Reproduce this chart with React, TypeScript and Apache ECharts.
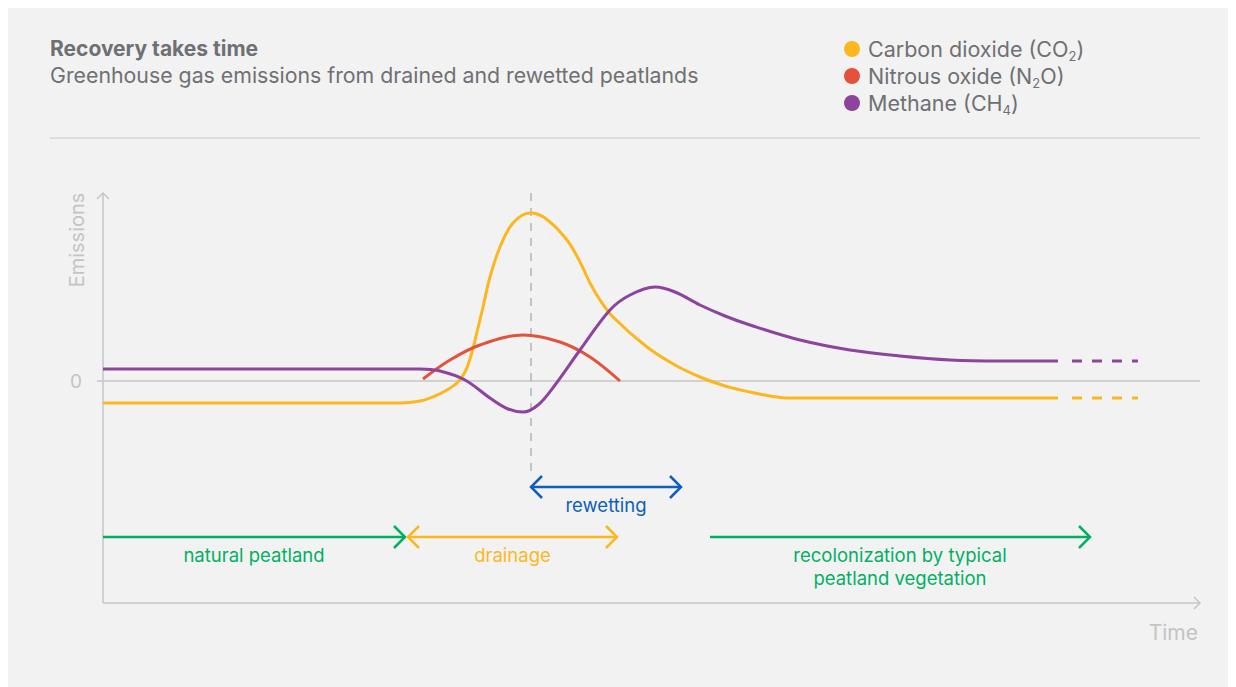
import React, { useEffect, useRef } from "react";
import * as echarts from "echarts";

// ---- Data (arbitrary units: time vs. emissions, 0 = zero emissions) ----
const co2Curve: [number, number][] = [
  [0, -2.2], [29.7, -2.2], [31.7, -2.0], [33.2, -1.5], [34.4, -0.9], [35.5, -0.1],
  [36.3, 1.1], [36.9, 2.9], [37.4, 4.9], [38.0, 7.4], [38.7, 10.4], [39.7, 13.4],
  [41.0, 15.8], [42.7, 16.8], [44.2, 16.3], [46.4, 14.1], [47.7, 11.9], [48.7, 9.8],
  [49.7, 8.1], [51.0, 6.4], [54.4, 3.4], [57.2, 1.6], [59.7, 0.4], [62.2, -0.5],
  [64.7, -1.1], [66.7, -1.5], [68.7, -1.7], [95.5, -1.7],
];
const co2Projection: [number, number][] = [[96.9, -1.7], [103.5, -1.7]];

const n2oCurve: [number, number][] = [
  [32.0, 0.2], [34.7, 2.1], [37.7, 3.6], [42.0, 4.6], [45.7, 3.9], [48.7, 2.4], [51.7, 0.0],
];

const ch4Curve: [number, number][] = [
  [0, 1.2], [31.7, 1.2], [33.7, 1.0], [36.2, 0.1], [38.7, -1.7], [40.5, -2.8],
  [42.0, -3.1], [43.5, -2.4], [45.2, -0.4], [47.7, 3.1], [50.7, 7.1], [52.7, 8.6],
  [55.2, 9.4], [57.2, 8.9], [59.7, 7.6], [62.2, 6.5], [64.7, 5.6], [69.7, 4.1], [74.7, 3.1],
  [79.7, 2.5], [84.7, 2.1], [89.7, 2.0], [95.5, 2.0],
];
const ch4Projection: [number, number][] = [[96.9, 2.0], [103.5, 2.0]];

const rewettingMarker: [number, number][] = [[42.8, 18.8], [42.8, -9.4]];

const periodLabels = [
  "natural peatland",
  "drainage",
  "rewetting",
  "recolonization by typical\npeatland vegetation",
];
const periodStart = [0, 30.5, 42.8, 60.7];
const periodEnd = [30.2, 51.4, 57.8, 98.7];
const periodLevel = [-15.6, -15.6, -10.6, -15.6];

const seriesNames = ["Carbon dioxide (CO2)", "Nitrous oxide (N2O)", "Methane (CH4)"];
const legendRich: Record<string, string> = {
  "Carbon dioxide (CO2)": "Carbon dioxide (CO{s|2})",
  "Nitrous oxide (N2O)": "Nitrous oxide (N{s|2}O)",
  "Methane (CH4)": "Methane (CH{s|4})",
};

const X_MIN = 0;
const X_MAX = 109.7;
const Y_MIN = -22.2;
const Y_MAX = 18.8;

// ---- Styles ----
const FONT = "Inter, Roboto, sans-serif";
const C_CO2 = "#fdb71e";
const C_N2O = "#e3523b";
const C_CH4 = "#8c449c";
const C_GREEN = "#00b062";
const C_BLUE = "#0d5fbd";
const C_TEXT = "#6f7073";
const C_AXIS = "#c6c6c6";
const C_AXIS_TEXT = "#c4c4c4";
const periodColors = [C_GREEN, C_CO2, C_BLUE, C_GREEN];
const periodHeads = ["end", "both", "both", "end"];
const SMOOTH = 0.35;

export default function App() {
  const ref = useRef<HTMLDivElement>(null);

  useEffect(() => {
    document.body.style.overflow = "hidden";
    const chart = echarts.init(ref.current!, null, { renderer: "svg" });

    const periodData = periodLabels.map((_, i) => [periodStart[i], periodEnd[i], periodLevel[i]]);

    const option: any = {
      animation: false,
      backgroundColor: "#f2f2f2",
      title: {
        text: "Recovery takes time",
        subtext: "Greenhouse gas emissions from drained and rewetted peatlands",
        left: 42,
        top: 28,
        padding: 0,
        itemGap: 1,
        textStyle: { fontFamily: FONT, fontSize: 21, fontWeight: "bold", color: C_TEXT, lineHeight: 25 },
        subtextStyle: { fontFamily: FONT, fontSize: 21.3, color: C_TEXT, lineHeight: 25 },
      },
      legend: {
        data: seriesNames.map((n) => ({ name: n, icon: "circle" })),
        orient: "vertical",
        left: 836,
        top: 28,
        padding: 0,
        itemGap: 1,
        itemWidth: 16,
        itemHeight: 16,
        selectedMode: false,
        formatter: (n: string) => legendRich[n] || n,
        textStyle: {
          fontFamily: FONT,
          fontSize: 21.5,
          color: C_TEXT,
          lineHeight: 26,
          padding: [0, 0, 0, 3],
          rich: {
            s: { fontFamily: FONT, fontSize: 13, color: C_TEXT, lineHeight: 10, verticalAlign: "bottom" },
          },
        },
      },
      graphic: [
        {
          type: "line",
          shape: { x1: 42, y1: 130, x2: 1192, y2: 130 },
          style: { stroke: "#c8c8c8", lineWidth: 1.2 },
        },
      ],
      grid: { left: 95, right: 36, top: 185, bottom: 84 },
      xAxis: {
        type: "value",
        min: X_MIN,
        max: X_MAX,
        axisLine: { show: false },
        axisTick: { show: false },
        axisLabel: { show: false },
        splitLine: { show: false },
      },
      yAxis: {
        type: "value",
        min: Y_MIN,
        max: Y_MAX,
        axisLine: { show: false },
        axisTick: { show: false },
        axisLabel: { show: false },
        splitLine: { show: false },
      },
      series: [
        {
          type: "custom",
          name: "frame",
          z: 1,
          silent: true,
          data: [[X_MIN, Y_MIN]],
          encode: { x: 0, y: 1 },
          renderItem: (params: any, api: any) => {
            const o = api.coord([X_MIN, Y_MIN]);
            const xe = api.coord([X_MAX, Y_MIN]);
            const yt = api.coord([X_MIN, Y_MAX]);
            const z0 = api.coord([X_MIN, 0]);
            const z1 = api.coord([X_MAX, 0]);
            const st = { stroke: C_AXIS, lineWidth: 1.5, fill: "none" };
            return {
              type: "group",
              children: [
                { type: "line", shape: { x1: o[0], y1: o[1], x2: yt[0], y2: yt[1] }, style: st },
                { type: "line", shape: { x1: o[0], y1: o[1], x2: xe[0], y2: xe[1] }, style: st },
                { type: "line", shape: { x1: z0[0] - 6, y1: z0[1], x2: z1[0], y2: z1[1] }, style: st },
                {
                  type: "polyline",
                  shape: { points: [[yt[0] - 6, yt[1] + 6], [yt[0], yt[1]], [yt[0] + 6, yt[1] + 6]] },
                  style: st,
                },
                {
                  type: "polyline",
                  shape: { points: [[xe[0] - 6, xe[1] - 6], [xe[0], xe[1]], [xe[0] - 6, xe[1] + 6]] },
                  style: st,
                },
                {
                  type: "text",
                  style: {
                    text: "0", x: z0[0] - 27, y: z0[1], align: "center", verticalAlign: "middle",
                    fill: C_AXIS_TEXT, fontSize: 19, fontFamily: FONT,
                  },
                },
                {
                  type: "text",
                  x: yt[0] - 26,
                  y: yt[1] + 47,
                  rotation: Math.PI / 2,
                  style: {
                    text: "Emissions", x: 0, y: 0, align: "center", verticalAlign: "middle",
                    fill: C_AXIS_TEXT, fontSize: 20, fontFamily: FONT,
                  },
                },
                {
                  type: "text",
                  style: {
                    text: "Time", x: xe[0] - 2, y: xe[1] + 29, align: "right", verticalAlign: "middle",
                    fill: C_AXIS_TEXT, fontSize: 21, fontFamily: FONT,
                  },
                },
              ],
            };
          },
        },
        {
          type: "line",
          name: "rewetting start",
          data: rewettingMarker,
          symbol: "none",
          z: 2,
          silent: true,
          lineStyle: { color: "#b4b4b4", width: 1.5, type: [8, 7] },
        },
        {
          type: "line",
          name: seriesNames[0],
          data: co2Curve,
          smooth: SMOOTH,
          symbol: "none",
          z: 3,
          color: C_CO2,
          lineStyle: { color: C_CO2, width: 3 },
        },
        {
          type: "line",
          name: "co2-projection",
          data: co2Projection,
          symbol: "none",
          z: 3,
          lineStyle: { color: C_CO2, width: 3, type: [10, 10] },
        },
        {
          type: "line",
          name: seriesNames[1],
          data: n2oCurve,
          smooth: SMOOTH,
          symbol: "none",
          z: 3,
          color: C_N2O,
          lineStyle: { color: C_N2O, width: 3 },
        },
        {
          type: "line",
          name: seriesNames[2],
          data: ch4Curve,
          smooth: SMOOTH,
          symbol: "none",
          z: 4,
          color: C_CH4,
          lineStyle: { color: C_CH4, width: 3 },
        },
        {
          type: "line",
          name: "ch4-projection",
          data: ch4Projection,
          symbol: "none",
          z: 3,
          lineStyle: { color: C_CH4, width: 3, type: [10, 10] },
        },
        {
          type: "custom",
          name: "periods",
          z: 5,
          silent: true,
          data: periodData,
          encode: { x: [0, 1], y: 2 },
          renderItem: (params: any, api: any) => {
            const i = params.dataIndex;
            const a = api.coord([api.value(0), api.value(2)]);
            const b = api.coord([api.value(1), api.value(2)]);
            const col = periodColors[i];
            const st = { stroke: col, lineWidth: 2.5, fill: "none", lineJoin: "miter" };
            const children: any[] = [
              { type: "line", shape: { x1: a[0], y1: a[1], x2: b[0], y2: b[1] }, style: st },
              {
                type: "polyline",
                shape: { points: [[b[0] - 11, b[1] - 11], [b[0], b[1]], [b[0] - 11, b[1] + 11]] },
                style: st,
              },
            ];
            if (periodHeads[i] === "both") {
              children.push({
                type: "polyline",
                shape: { points: [[a[0] + 11, a[1] - 11], [a[0], a[1]], [a[0] + 11, a[1] + 11]] },
                style: st,
              });
            }
            children.push({
              type: "text",
              style: {
                text: periodLabels[i],
                x: (a[0] + b[0]) / 2,
                y: a[1] + 6,
                align: "center",
                verticalAlign: "top",
                fill: col,
                fontSize: 18.5,
                lineHeight: 23,
                fontFamily: FONT,
              },
            });
            return { type: "group", children };
          },
        },
      ],
    };

    chart.setOption(option);
    return () => chart.dispose();
  }, []);

  return <div ref={ref} style={{ width: 1228, height: 679 }} />;
}
